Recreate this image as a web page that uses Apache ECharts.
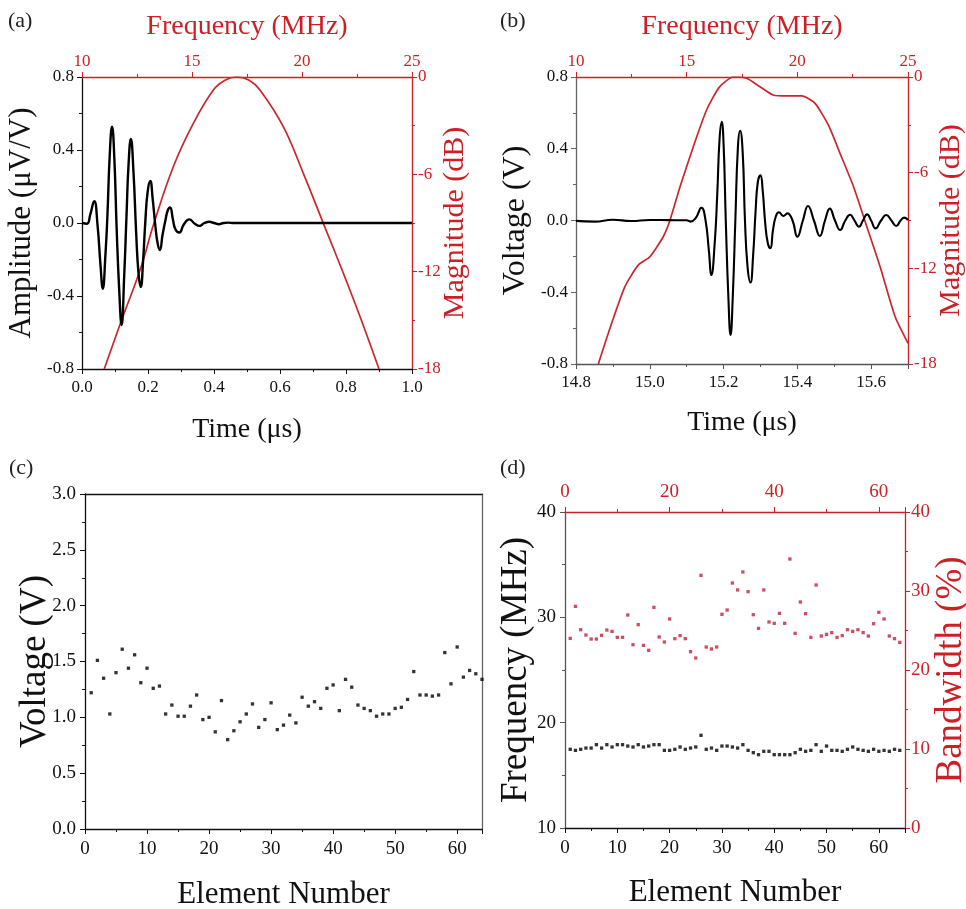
<!DOCTYPE html>
<html><head><meta charset="utf-8">
<script src="https://cdn.jsdelivr.net/npm/echarts@6/dist/echarts.min.js"></script>
<style>html,body{margin:0;padding:0;background:#fff}#c{width:966px;height:909px}</style>
</head><body><div id="c"></div>
<script>
// ---------- data ----------
// (a) simulated pulse
const aTime = [0,0.015,0.025,0.037,0.047,0.056,0.063,0.071,0.077,0.084,0.091,0.098,0.105,0.113,0.12,0.128,0.135,0.141,0.148,0.156,0.164,0.171,0.178,0.185,0.192,0.199,0.207,0.214,0.222,0.229,0.236,0.244,0.253,0.26,0.267,0.275,0.283,0.295,0.308,0.325,0.343,0.356,0.371,0.386,0.4,0.415,0.429,0.443,0.46,1.0];
const aAmp  = [0,-0.004,0.046,0.12,-0.01,-0.23,-0.36,-0.175,0.04,0.37,0.528,0.354,-0.03,-0.376,-0.559,-0.285,0.046,0.318,0.46,0.28,-0.048,-0.27,-0.35,-0.21,0.01,0.172,0.23,0.135,-0.01,-0.11,-0.148,-0.066,0.016,0.07,0.085,0.025,-0.034,-0.052,-0.01,0.02,-0.006,-0.016,0,0.007,0,-0.007,0,0.002,0,0];
const aFreq = [11.01,11.8,12.64,13.27,14.15,15.06,15.97,16.5,17.03,17.6,18.09,19.15,20.06,20.97,21.88,22.64,23.5];
const aMag  = [-18,-14.98,-11.9,-9.02,-5.53,-2.86,-0.8,-0.2,0,-0.2,-0.8,-3.06,-5.94,-9.02,-12.1,-14.78,-18];
// (b) measured pulse
const bTime = [14.80,14.85,14.90,14.95,15.00,15.05,15.10,15.110,15.124,15.140,15.151,15.160,15.167,15.176,15.183,15.189,15.195,15.200,15.206,15.213,15.219,15.225,15.232,15.239,15.245,15.252,15.258,15.265,15.273,15.280,15.287,15.293,15.300,15.306,15.313,15.320,15.327,15.334,15.342,15.350,15.362,15.373,15.387,15.40,15.415,15.429,15.445,15.461,15.475,15.488,15.502,15.516,15.53,15.543,15.555,15.567,15.578,15.589,15.60,15.612,15.627,15.641,15.655,15.668,15.68,15.69,15.70];
const bVolt = [-0.002,-0.006,0.004,-0.003,0.003,0.002,0.001,-0.006,0.012,0.071,0.003,-0.164,-0.304,-0.127,0.151,0.449,0.55,0.43,0.003,-0.424,-0.638,-0.424,0.003,0.412,0.50,0.374,0.003,-0.257,-0.346,-0.2,0.058,0.216,0.252,0.17,-0.016,-0.127,-0.155,-0.053,0.025,0.046,0.025,0.04,0,-0.09,0,0.081,0,-0.086,0,0.066,0,-0.053,0,0.032,0,-0.035,0,0.034,0,-0.044,0,0.031,0,-0.031,0,0.016,0.003];
const bFreq = [11.01,11.61,12.21,12.81,13.34,13.94,14.25,14.70,15.30,15.9,16.47,17.1,17.71,18.31,18.91,19.52,20.2,20.8,21.4,21.93,22.54,23.14,23.74,24.42,25.0];
const bMag  = [-18,-15.45,-13.15,-11.8,-11.27,-10.02,-8.97,-6.88,-4.37,-2.07,-0.65,0,-0.08,-0.61,-1.13,-1.19,-1.19,-1.65,-3.01,-4.79,-6.88,-9.39,-11.9,-15.04,-16.7];
// (c)/(d) per element
const elements = [1,2,3,4,5,6,7,8,9,10,11,12,13,14,15,16,17,18,19,20,21,22,23,24,25,26,27,28,29,30,31,32,33,34,35,36,37,38,39,40,41,42,43,44,45,46,47,48,49,50,51,52,53,54,55,56,57,58,59,60,61,62,63,64];
const cVolt = [1.22,1.51,1.35,1.03,1.40,1.61,1.44,1.56,1.31,1.44,1.26,1.28,1.03,1.11,1.01,1.01,1.10,1.20,0.98,1.00,0.87,1.15,0.80,0.88,0.96,1.03,1.12,0.91,0.98,1.13,0.89,0.93,1.02,0.95,1.18,1.10,1.14,1.08,1.26,1.29,1.06,1.34,1.27,1.11,1.08,1.06,1.01,1.03,1.03,1.08,1.09,1.16,1.41,1.20,1.20,1.19,1.20,1.58,1.30,1.63,1.36,1.42,1.39,1.34];
const dFreq = [17.47,17.37,17.47,17.59,17.59,17.91,17.59,17.91,17.69,17.91,17.91,17.78,17.69,17.91,17.69,17.78,17.91,17.91,17.37,17.37,17.47,17.69,17.47,17.59,17.69,18.80,17.47,17.59,17.37,17.78,17.78,17.69,17.59,17.91,17.37,17.15,16.96,17.28,17.28,16.96,16.96,16.96,16.96,17.15,17.47,17.28,17.37,17.91,17.28,17.78,17.37,17.37,17.28,17.47,17.69,17.47,17.37,17.28,17.47,17.28,17.37,17.28,17.47,17.37];
const dBw   = [24.0,28.06,25.1,24.43,23.92,23.92,24.39,25.06,24.89,24.13,24.13,26.96,23.2,25.74,23.12,22.49,27.93,24.18,23.54,26.46,23.97,24.35,23.97,22.32,21.52,31.98,22.91,22.66,22.91,27.05,27.59,31.01,30.13,32.41,29.92,27.0,25.27,30.13,26.08,25.91,27.17,25.91,34.05,24.64,28.61,27.13,24.13,30.76,24.3,24.51,24.73,24.13,24.35,25.1,24.89,25.1,24.73,24.3,25.86,27.3,26.46,24.3,23.97,23.5];

// ---------- chart ----------
const FONT = 'Liberation Serif';
const RED = '#cc1f26';
const BLK = '#111';
const pairs = (xs, ys) => xs.map((x, i) => [x, ys[i]]);
const fix1 = v => Number(v).toFixed(1);
const fix0 = v => String(Math.round(v));

function ax(o) {
  const color = o.color || BLK;
  return {
    type: 'value', gridIndex: o.grid, position: o.pos,
    min: o.min, max: o.max, interval: o.interval,
    name: o.name || '', nameLocation: 'middle', nameGap: o.gap || 0,
    nameRotate: o.rot, nameMoveOverlap: false,
    nameTextStyle: {fontFamily: FONT, fontSize: o.nsize || 28, color: o.ncolor || color},
    axisLine: {show: true, onZero: false, lineStyle: {color: o.lcolor || color, width: 1.3}},
    axisTick: {show: o.ticks !== false, inside: false, length: 5, lineStyle: {color: o.lcolor || color}},
    minorTick: {show: o.ticks !== false, splitNumber: 2, length: 3, lineStyle: {color: o.lcolor || color}},
    axisLabel: {show: o.labels !== false, margin: o.margin || 8, fontFamily: FONT, fontSize: o.lsize || 17,
      color: color, formatter: o.fmt || fix0, showMaxLabel: o.showMax !== false, showMinLabel: true},
    splitLine: {show: false}, minorSplitLine: {show: false}
  };
}

const gridBase = {show: false, containLabel: false, outerBoundsMode: 'none'};
const option = {
  animation: false,
  backgroundColor: '#fff',
  grid: [
    Object.assign({left: 82, top: 77, width: 330, height: 292}, gridBase),
    Object.assign({left: 576, top: 77, width: 332, height: 287}, gridBase),
    Object.assign({left: 85, top: 494, width: 397, height: 335}, gridBase),
    Object.assign({left: 565, top: 512, width: 340, height: 316}, gridBase)
  ],
  xAxis: [
    ax({grid: 0, pos: 'bottom', min: 0, max: 1, interval: 0.2, fmt: fix1, name: 'Time (μs)', gap: 47, margin: 10}),
    ax({grid: 0, pos: 'top', min: 10, max: 25, interval: 5, color: RED, name: 'Frequency (MHz)', gap: 36, margin: 7}),
    ax({grid: 1, pos: 'bottom', min: 14.8, max: 15.7, interval: 0.2, fmt: fix1, showMax: false, name: 'Time (μs)', gap: 45, margin: 10, lcolor: '#555'}),
    ax({grid: 1, pos: 'top', min: 10, max: 25, interval: 5, color: RED, name: 'Frequency (MHz)', gap: 36, margin: 7}),
    ax({grid: 2, pos: 'bottom', min: 0, max: 64, interval: 10, showMax: false, name: 'Element Number', nsize: 31, gap: 50, lsize: 19, margin: 11}),
    ax({grid: 2, pos: 'top', min: 0, max: 64, interval: 10, labels: false, ticks: false}),
    ax({grid: 3, pos: 'bottom', min: 0, max: 65, interval: 10, showMax: false, name: 'Element Number', nsize: 31, gap: 49, lsize: 19, margin: 11}),
    ax({grid: 3, pos: 'top', min: 0, max: 65, interval: 20, showMax: false, color: RED, lsize: 19, margin: 10})
  ],
  yAxis: [
    ax({grid: 0, pos: 'left', min: -0.8, max: 0.8, interval: 0.4, fmt: fix1, name: 'Amplitude (μV/V)', nsize: 31, gap: 45, rot: 90}),
    ax({grid: 0, pos: 'right', min: -18, max: 0, interval: 6, color: RED, name: 'Magnitude (dB)', nsize: 30, gap: 28, rot: 90, margin: 6}),
    ax({grid: 1, pos: 'left', min: -0.8, max: 0.8, interval: 0.4, fmt: fix1, name: 'Voltage (V)', nsize: 32, gap: 44, rot: 90, lcolor: '#666'}),
    ax({grid: 1, pos: 'right', min: -18, max: 0, interval: 6, color: RED, name: 'Magnitude (dB)', nsize: 30, gap: 28, rot: 90, margin: 6}),
    ax({grid: 2, pos: 'left', min: 0, max: 3, interval: 0.5, fmt: fix1, name: 'Voltage (V)', nsize: 37, gap: 31, rot: 90, lsize: 19, margin: 9}),
    ax({grid: 2, pos: 'right', min: 0, max: 3, interval: 0.5, labels: false, ticks: false, lcolor: '#666'}),
    ax({grid: 3, pos: 'left', min: 10, max: 40, interval: 10, name: 'Frequency (MHz)', nsize: 37, gap: 30, rot: 90, lsize: 19, margin: 9, lcolor: '#555'}),
    ax({grid: 3, pos: 'right', min: 0, max: 40, interval: 10, color: RED, name: 'Bandwidth (%)', nsize: 37, gap: 28, rot: 90, lsize: 19, margin: 6})
  ],
  series: [
    {type: 'line', xAxisIndex: 0, yAxisIndex: 0, data: pairs(aTime, aAmp), smooth: 0.5, showSymbol: false,
     lineStyle: {color: '#000', width: 2.4}, z: 3},
    {type: 'line', xAxisIndex: 1, yAxisIndex: 1, data: pairs(aFreq, aMag), smooth: 0.4, showSymbol: false,
     lineStyle: {color: '#c8282c', width: 1.7}, z: 2},
    {type: 'line', xAxisIndex: 2, yAxisIndex: 2, data: pairs(bTime, bVolt), smooth: 0.5, showSymbol: false,
     lineStyle: {color: '#000', width: 2.1}, z: 3},
    {type: 'line', xAxisIndex: 3, yAxisIndex: 3, data: pairs(bFreq, bMag), smooth: 0.2, showSymbol: false,
     lineStyle: {color: '#c8282c', width: 1.7}, z: 2},
    {type: 'scatter', xAxisIndex: 4, yAxisIndex: 4, data: pairs(elements, cVolt), symbol: 'rect', symbolSize: 3.3,
     itemStyle: {color: '#000'}},
    {type: 'scatter', xAxisIndex: 6, yAxisIndex: 6, data: pairs(elements, dFreq), symbol: 'rect', symbolSize: 3.3,
     itemStyle: {color: '#000'}},
    {type: 'scatter', xAxisIndex: 6, yAxisIndex: 7, data: pairs(elements, dBw), symbol: 'rect', symbolSize: 3.3,
     itemStyle: {color: '#c41f3a'}}
  ],
  graphic: [
    {type: 'text', left: 8, top: 10, style: {text: '(a)', fontFamily: FONT, fontSize: 22, fill: '#222'}},
    {type: 'text', left: 500, top: 10, style: {text: '(b)', fontFamily: FONT, fontSize: 22, fill: '#222'}},
    {type: 'text', left: 9, top: 457, style: {text: '(c)', fontFamily: FONT, fontSize: 22, fill: '#222'}},
    {type: 'text', left: 500, top: 457, style: {text: '(d)', fontFamily: FONT, fontSize: 22, fill: '#222'}}
  ]
};
const chart = echarts.init(document.getElementById('c'));
chart.setOption(option);
</script>
</body></html>
